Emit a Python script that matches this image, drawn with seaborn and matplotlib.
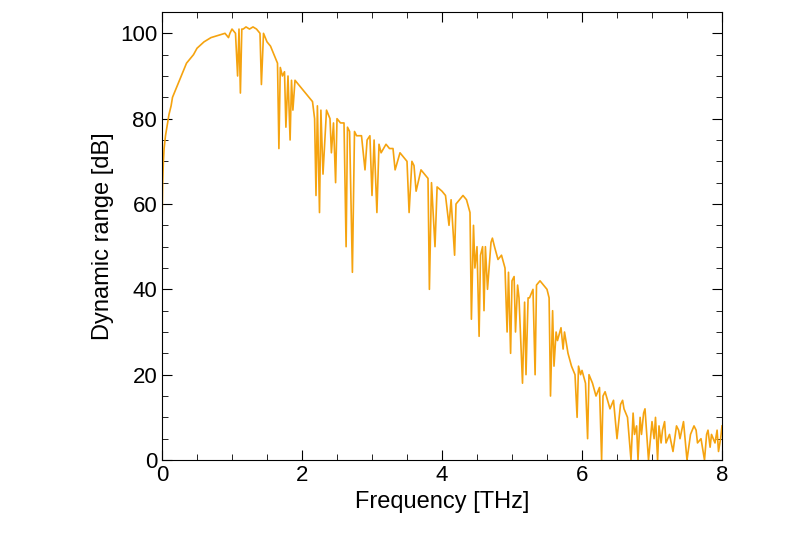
import matplotlib
matplotlib.use("Agg")
import matplotlib.pyplot as plt
import seaborn as sns
import pandas as pd
from matplotlib.ticker import MultipleLocator

freq = [
    0.0, 0.01, 0.02, 0.03, 0.05, 0.07, 0.1, 0.13, 0.15, 0.2,
    0.25, 0.3, 0.35, 0.4, 0.45, 0.5, 0.6, 0.7, 0.8, 0.9,
    0.95, 0.97, 1.0, 1.05, 1.08, 1.1, 1.12, 1.14, 1.16, 1.2,
    1.25, 1.3, 1.35, 1.4, 1.42, 1.45, 1.5, 1.55, 1.6, 1.65,
    1.67, 1.69, 1.72, 1.75, 1.77, 1.8, 1.83, 1.85, 1.87, 1.9,
    1.95, 2.0, 2.05, 2.1, 2.15, 2.18, 2.2, 2.22, 2.25, 2.27,
    2.3, 2.35, 2.4, 2.42, 2.45, 2.48, 2.5, 2.55, 2.6, 2.63,
    2.65, 2.68, 2.72, 2.75, 2.78, 2.85, 2.9, 2.93, 2.97, 3.0,
    3.03, 3.07, 3.1, 3.13, 3.2, 3.25, 3.3, 3.33, 3.4, 3.45,
    3.5, 3.53, 3.57, 3.6, 3.63, 3.7, 3.75, 3.8, 3.82, 3.85,
    3.9, 3.93, 4.0, 4.05, 4.1, 4.13, 4.18, 4.2, 4.25, 4.3,
    4.35, 4.4, 4.42, 4.45, 4.47, 4.5, 4.53, 4.55, 4.58, 4.6,
    4.62, 4.65, 4.7, 4.72, 4.75, 4.8, 4.85, 4.9, 4.93, 4.95,
    4.98, 5.0, 5.03, 5.05, 5.08, 5.1, 5.15, 5.18, 5.2, 5.23,
    5.25, 5.3, 5.33, 5.35, 5.4, 5.45, 5.5, 5.53, 5.55, 5.58,
    5.6, 5.63, 5.65, 5.7, 5.73, 5.75, 5.8, 5.85, 5.9, 5.93,
    5.95, 5.98, 6.0, 6.05, 6.08, 6.1, 6.15, 6.2, 6.25, 6.28,
    6.3, 6.33, 6.4, 6.45, 6.5, 6.55, 6.58, 6.6, 6.65, 6.7,
    6.73, 6.75, 6.78, 6.8, 6.83, 6.85, 6.88, 6.9, 6.95, 7.0,
    7.03, 7.05, 7.08, 7.1, 7.13, 7.15, 7.18, 7.2, 7.25, 7.3,
    7.35, 7.38, 7.4, 7.45, 7.5, 7.55, 7.6, 7.63, 7.65, 7.7,
    7.75, 7.78, 7.8, 7.83, 7.85, 7.9, 7.93, 7.95, 7.98, 8.0,
]
dyn_range = [
    55, 65, 70, 73, 76, 78, 81, 83, 85, 87,
    89, 91, 93, 94, 95, 96.5, 98, 99, 99.5, 100,
    99, 100, 101, 100, 90, 101, 86, 101, 101, 101.5,
    101, 101.5, 101, 100, 88, 100, 98, 97, 95, 93,
    73, 92, 90, 91, 78, 90, 75, 89, 82, 89,
    88, 87, 86, 85, 84, 80, 62, 83, 58, 82,
    67, 82, 80, 72, 79, 65, 80, 79, 79, 50,
    78, 77, 44, 77, 76, 76, 68, 75, 76, 62,
    75, 58, 74, 72, 74, 73, 73, 68, 72, 71,
    70, 58, 70, 69, 63, 68, 67, 66, 40, 65,
    50, 64, 63, 62, 55, 61, 48, 60, 61, 62,
    61, 58, 33, 55, 45, 50, 29, 48, 50, 35,
    50, 40, 51, 52, 50, 47, 48, 45, 30, 44,
    25, 42, 43, 30, 41, 38, 18, 37, 20, 38,
    38, 40, 20, 41, 42, 41, 40, 38, 15, 35,
    22, 30, 28, 31, 26, 30, 25, 22, 20, 10,
    22, 20, 21, 18, 5, 20, 18, 15, 17, 0,
    15, 16, 12, 14, 5, 13, 14, 12, 10, 0,
    11, 6, 8, 0, 10, 6, 11, 12, 0, 9,
    5, 10, 0, 8, 4, 7, 9, 4, 6, 2,
    8, 7, 5, 9, 0, 6, 8, 7, 4, 5,
    0, 6, 7, 3, 6, 4, 7, 2, 5, 8,
]

df = pd.DataFrame({"freq": freq, "val": dyn_range})

plt.rcParams["font.family"] = "Liberation Sans"
fig = plt.figure(figsize=(8, 5.5), dpi=100)
ax = fig.add_axes([0.2025, 0.1636, 0.7, 0.8146])
sns.lineplot(data=df, x="freq", y="val", color="#F5A30F", linewidth=1.2, ax=ax)
ax.set_xlim(0, 8)
ax.set_ylim(0, 105)
ax.xaxis.set_major_locator(MultipleLocator(2))
ax.xaxis.set_minor_locator(MultipleLocator(0.5))
ax.yaxis.set_major_locator(MultipleLocator(20))
ax.yaxis.set_minor_locator(MultipleLocator(5))
ax.tick_params(which="both", direction="in", top=True, right=True, labelsize=16)
ax.tick_params(which="major", length=7)
ax.tick_params(which="minor", length=4)
ax.set_xlabel("Frequency [THz]", fontsize=17)
ax.set_ylabel("Dynamic range [dB]", fontsize=17)
fig.savefig("out.png", dpi=100)
